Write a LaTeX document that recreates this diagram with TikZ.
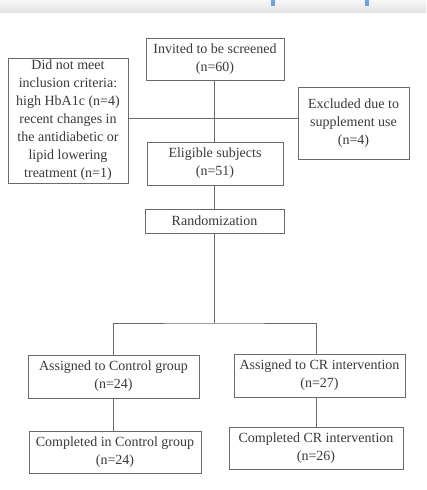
\documentclass[tikz,border=0pt]{standalone}
\usepackage{fontspec}
\setmainfont{Liberation Serif}
\definecolor{boxline}{HTML}{6A6A6A}
\definecolor{txt}{HTML}{3A3A3A}
\definecolor{topblue}{HTML}{6E9FE6}
\begin{document}
\begin{tikzpicture}[x=1pt,y=-1pt,
  fbox/.style={draw=boxline,line width=0.9pt,rectangle,inner sep=0pt,align=center,
    text=txt,font=\fontsize{14}{18}\selectfont},
  conn/.style={draw=boxline,line width=0.9pt}]
\useasboundingbox[fill=white] (0,0) rectangle (426,490);
% top screenshot strip
\shade[top color=white!97!black,bottom color=white!89!black] (0,0) rectangle (426,12);
\fill[topblue] (271,0) rectangle (275,6);
\fill[topblue] (365,0) rectangle (369,6);
% boxes
\node[fbox,minimum width=138,minimum height=42] (inv) at (215,59) {Invited to be screened\\(n=60)};
\node[fbox,minimum width=120,minimum height=125] (dnm) at (68,120.5) {Did not meet\\inclusion criteria:\\high HbA1c (n=4)\\recent changes in\\the antidiabetic or\\lipid lowering\\treatment (n=1)};
\node[fbox,minimum width=111,minimum height=72] (excl) at (353.5,123) {Excluded due to\\supplement use\\(n=4)};
\node[fbox,minimum width=136,minimum height=43] (elig) at (215,163.5) {Eligible subjects\\(n=51)};
\node[fbox,minimum width=139,minimum height=24] (rand) at (214.5,221) {Randomization};
\node[fbox,minimum width=171,minimum height=43] (ac) at (113.5,376.5) {Assigned to Control group\\(n=24)};
\node[fbox,minimum width=171,minimum height=43] (ai) at (319.5,375.5) {Assigned to CR intervention\\(n=27)};
\node[fbox,minimum width=172,minimum height=42] (cc) at (115,452) {Completed in Control group\\(n=24)};
\node[fbox,minimum width=174,minimum height=42] (ci) at (316,448) {Completed CR intervention\\(n=26)};
% connectors
\coordinate (j) at (214,118);
\coordinate (sp) at (214,323);
\draw[conn] (inv.south -| j) -- (elig.north -| j);
\draw[conn] (dnm.east |- j) -- (excl.west |- j);
\draw[conn] (elig.south -| j) -- (rand.north -| j);
\draw[conn] (rand.south -| j) -- (sp);
\draw[conn] (ac.north) |- (sp) -| (ai.north -| ci.north);
\draw[conn] (ac.south) -- (ac.south |- cc.north);
\draw[conn] (ci.north |- ai.south) -- (ci.north);
\end{tikzpicture}
\end{document}
